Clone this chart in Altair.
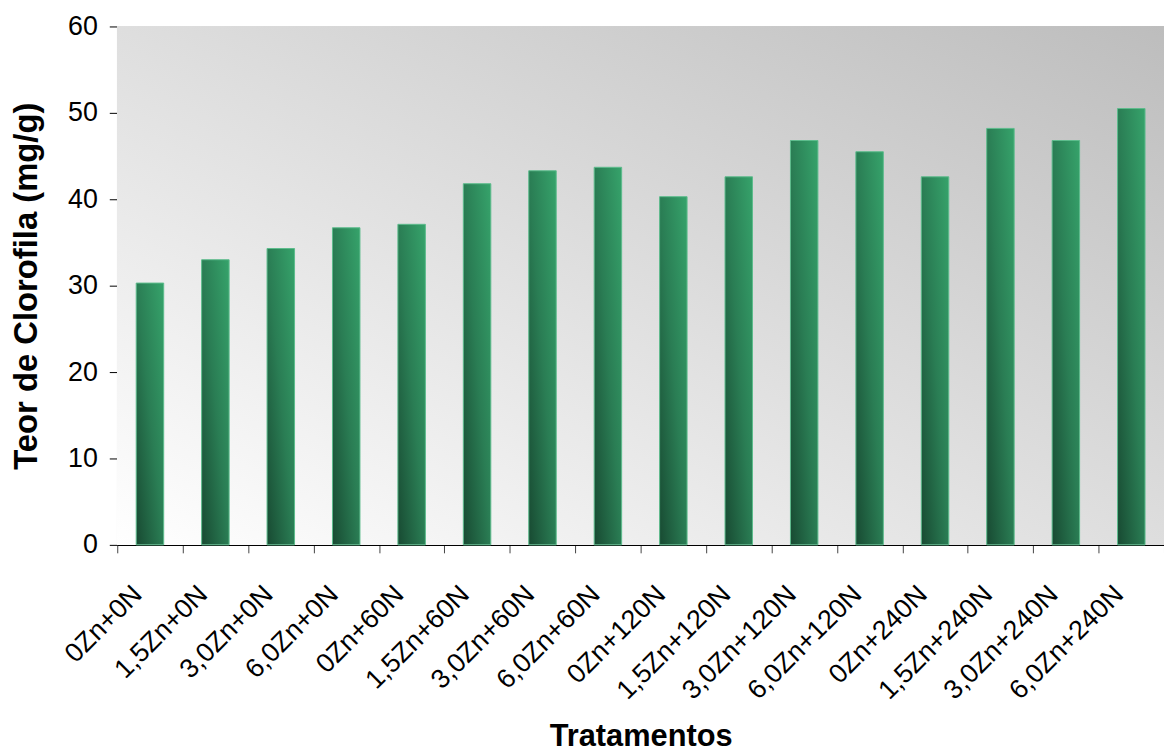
import altair as alt
import pandas as pd

tratamentos = [
    "0Zn+0N", "1,5Zn+0N", "3,0Zn+0N", "6,0Zn+0N",
    "0Zn+60N", "1,5Zn+60N", "3,0Zn+60N", "6,0Zn+60N",
    "0Zn+120N", "1,5Zn+120N", "3,0Zn+120N", "6,0Zn+120N",
    "0Zn+240N", "1,5Zn+240N", "3,0Zn+240N", "6,0Zn+240N",
]
clorofila = [30.3, 33.0, 34.3, 36.7, 37.1, 41.8, 43.3, 43.7,
             40.3, 42.6, 46.8, 45.5, 42.6, 48.2, 46.8, 50.5]

df = pd.DataFrame({"Tratamentos": tratamentos, "Clorofila": clorofila})

W, H = 1054, 522
FONT = "Liberation Sans"

bg_grad = alt.Gradient(
    gradient="linear", x1=0, y1=1, x2=1, y2=0,
    stops=[alt.GradientStop(offset=0, color="#ffffff"),
           alt.GradientStop(offset=0.5, color="#dedede"),
           alt.GradientStop(offset=1, color="#bdbdbd")],
)
bar_grad = alt.Gradient(
    gradient="linear", x1=0, y1=1, x2=1, y2=0,
    stops=[alt.GradientStop(offset=0, color="#184a32"),
           alt.GradientStop(offset=0.5, color="#2a7d54"),
           alt.GradientStop(offset=1, color="#36a36b")],
)

background = alt.Chart(df).mark_rect(fill=bg_grad).encode(
    x=alt.value(0), x2=alt.value(W), y=alt.value(0), y2=alt.value(H)
)

bars = alt.Chart(df).mark_bar(
    fill=bar_grad, stroke="#5dbb8c", strokeWidth=1, width={"band": 0.42}
).encode(
    x=alt.X("Tratamentos:N", sort=tratamentos,
            scale=alt.Scale(paddingInner=0, paddingOuter=0),
            axis=alt.Axis(title="Tratamentos", labelAngle=-45, labelAlign="right",
                          labelBaseline="alphabetic", labelOffset=-7, labelPadding=43,
                          tickBand="extent", tickSize=8, tickColor="#444",
                          domainColor="#000", domainWidth=1.5,
                          titleFontSize=31, titleY=202, titleBaseline="alphabetic")),
    y=alt.Y("Clorofila:Q", scale=alt.Scale(domain=[0, 60]),
            axis=alt.Axis(title="Teor de Clorofila (mg/g)", values=[0, 10, 20, 30, 40, 50, 60],
                          tickSize=8, tickColor="#000", labelPadding=12,
                          domainColor="#000", domainWidth=1.5, grid=False,
                          titleFontSize=33, titleX=-81, titleBaseline="alphabetic")),
)

chart = (background + bars).properties(
    width=W, height=H,
    autosize=alt.AutoSizeParams(type="none"),
    padding={"left": 110, "top": 16, "right": 0, "bottom": 210},
).configure_view(stroke=None).configure_axis(
    labelFont=FONT, labelFontSize=27, labelColor="#000",
    titleFont=FONT, titleColor="#000", titleFontWeight="bold",
    grid=False,
)

chart.save("out.html", embed_options={"renderer": "svg", "actions": False})
